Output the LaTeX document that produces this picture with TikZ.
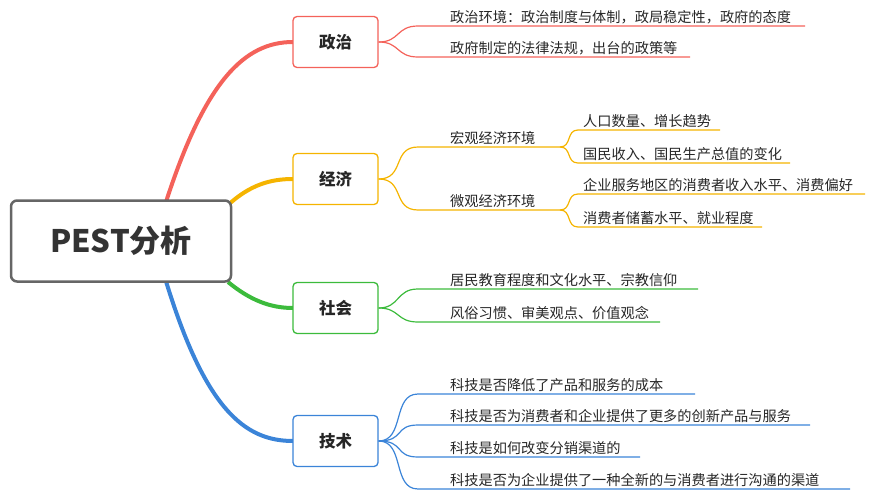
\documentclass[tikz,border=0pt]{standalone}
\usepackage{fontspec}
\setmainfont{Noto Sans CJK SC}
\begin{document}
\begin{tikzpicture}[x=1pt,y=-1pt,
  leaf/.style={anchor=south west,inner sep=2pt,font=\fontsize{14.2}{16}\selectfont,text=black!85},
  br/.style={draw,line width=1.3pt,rounded corners=4pt,fill=white,minimum width=85pt,minimum height=51pt,font=\bfseries\fontsize{16.5}{19}\selectfont,text=black!85},
  thick1/.style={line width=1.2pt}]
\definecolor{cr}{HTML}{F4625A}\definecolor{co}{HTML}{F5B400}
\definecolor{cg}{HTML}{3CBB3C}\definecolor{cb}{HTML}{3B84D8}
\useasboundingbox (0,0) rectangle (872,500);
% root curves
\draw[cr,line width=4pt] (165,205) .. controls (205,80) and (245,42) .. (293,42);
\draw[co,line width=4pt] (228,205) .. controls (250,185) and (270,179) .. (293,179);
\draw[cg,line width=4pt] (228,282) .. controls (250,300) and (270,308) .. (293,308);
\draw[cb,line width=4pt] (165,278) .. controls (205,410) and (245,441) .. (293,441);
\node[draw=black!60,line width=2.5pt,rounded corners=6pt,fill=white,minimum width=220pt,minimum height=81pt,font=\bfseries\fontsize{31}{34}\selectfont,text=black!80] (root) at (121,241) {PEST分析};
% Politics
\node[br,draw=cr] (p) at (335.5,42) {政治};
\coordinate (p1) at (418,26); \coordinate (p2) at (418,57);
\draw[cr,thick1] (p.east) .. controls (400,42) and (396,26) .. (p1) -- (805,26);
\draw[cr,thick1] (p.east) .. controls (400,42) and (396,57) .. (p2) -- (690,57);
\node[leaf] (pt1) at (448,26) {政治环境：政治制度与体制，政局稳定性，政府的态度};
\node[leaf] (pt2) at (448,57) {政府制定的法律法规，出台的政策等};
% Economy
\node[br,draw=co] (e) at (335.5,179) {经济};
\coordinate (e1) at (418,147); \coordinate (e2) at (418,210);
\draw[co,thick1] (e.east) .. controls (405,179) and (392,147) .. (e1) -- (560,147);
\draw[co,thick1] (e.east) .. controls (405,179) and (392,210) .. (e2) -- (560,210);
\node[leaf] (et1) at (448,147) {宏观经济环境};
\node[leaf] (et2) at (448,210) {微观经济环境};
\coordinate (e11) at (578,130); \coordinate (e12) at (578,163);
\coordinate (e21) at (578,194); \coordinate (e22) at (578,227);
\draw[co,thick1] (560,147) .. controls (572,147) and (566,130) .. (e11) -- (720,130);
\draw[co,thick1] (560,147) .. controls (572,147) and (566,163) .. (e12) -- (790,163);
\draw[co,thick1] (560,210) .. controls (572,210) and (566,194) .. (e21) -- (865,194);
\draw[co,thick1] (560,210) .. controls (572,210) and (566,227) .. (e22) -- (762,227);
\node[leaf] (et11) at (581,130) {人口数量、增长趋势};
\node[leaf] (et12) at (581,163) {国民收入、国民生产总值的变化};
\node[leaf] (et21) at (581,194) {企业服务地区的消费者收入水平、消费偏好};
\node[leaf] (et22) at (581,227) {消费者储蓄水平、就业程度};
% Society
\node[br,draw=cg] (s) at (335.5,308) {社会};
\coordinate (s1) at (418,289); \coordinate (s2) at (418,322);
\draw[cg,thick1] (s.east) .. controls (400,308) and (396,289) .. (s1) -- (698,289);
\draw[cg,thick1] (s.east) .. controls (400,308) and (396,322) .. (s2) -- (660,322);
\node[leaf] (st1) at (448,289) {居民教育程度和文化水平、宗教信仰};
\node[leaf] (st2) at (448,322) {风俗习惯、审美观点、价值观念};
% Technology
\node[br,draw=cb] (t) at (335.5,441) {技术};
\coordinate (t1) at (418,394); \coordinate (t2) at (418,425);
\coordinate (t3) at (418,457); \coordinate (t4) at (418,489);
\draw[cb,thick1] (t.east) .. controls (405,441) and (392,394) .. (t1) -- (695,394);
\draw[cb,thick1] (t.east) .. controls (405,441) and (394,425) .. (t2) -- (810,425);
\draw[cb,thick1] (t.east) .. controls (405,441) and (394,457) .. (t3) -- (640,457);
\draw[cb,thick1] (t.east) .. controls (405,441) and (392,489) .. (t4) -- (850,489);
\node[leaf] (tt1) at (448,394) {科技是否降低了产品和服务的成本};
\node[leaf] (tt2) at (448,425) {科技是否为消费者和企业提供了更多的创新产品与服务};
\node[leaf] (tt3) at (448,457) {科技是如何改变分销渠道的};
\node[leaf] (tt4) at (448,489) {科技是否为企业提供了一种全新的与消费者进行沟通的渠道};
\end{tikzpicture}
\end{document}
